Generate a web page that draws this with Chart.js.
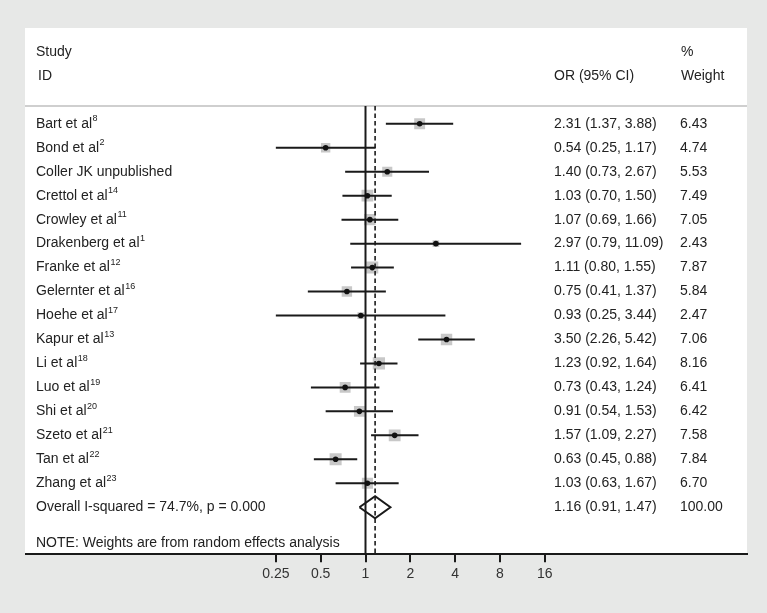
<!DOCTYPE html>
<html>
<head>
<meta charset="utf-8">
<script src="https://cdn.jsdelivr.net/npm/chart.js@4/dist/chart.umd.min.js"></script>
<style>
  body { margin: 0; background: #e7e8e7; }
  canvas { display: block; }
</style>
</head>
<body>
<canvas id="forestChart" width="767" height="613"></canvas>
<script>
// Study data
const studies = ['Bart et al', 'Bond et al', 'Coller JK unpublished', 'Crettol et al', 'Crowley et al',
  'Drakenberg et al', 'Franke et al', 'Gelernter et al', 'Hoehe et al', 'Kapur et al', 'Li et al',
  'Luo et al', 'Shi et al', 'Szeto et al', 'Tan et al', 'Zhang et al'];
const refs = ['8', '2', '', '14', '11', '1', '12', '16', '17', '13', '18', '19', '20', '21', '22', '23'];
const oddsRatio = [2.31, 0.54, 1.40, 1.03, 1.07, 2.97, 1.11, 0.75, 0.93, 3.50, 1.23, 0.73, 0.91, 1.57, 0.63, 1.03];
const ciLow = [1.37, 0.25, 0.73, 0.70, 0.69, 0.79, 0.80, 0.41, 0.25, 2.26, 0.92, 0.43, 0.54, 1.09, 0.45, 0.63];
const ciHigh = [3.88, 1.17, 2.67, 1.50, 1.66, 11.09, 1.55, 1.37, 3.44, 5.42, 1.64, 1.24, 1.53, 2.27, 0.88, 1.67];
const weights = [6.43, 4.74, 5.53, 7.49, 7.05, 2.43, 7.87, 5.84, 2.47, 7.06, 8.16, 6.41, 6.42, 7.58, 7.84, 6.70];
const overall = { or: 1.16, low: 0.91, high: 1.47, weight: 100.00 };
const overallLabel = 'Overall I-squared = 74.7%, p = 0.000';
const noteText = 'NOTE: Weights are from random effects analysis';
const xTicks = [0.25, 0.5, 1, 2, 4, 8, 16];

const FONT = "'Liberation Sans', Arial, sans-serif";
const TEXT = '#222222';
const overallRow = studies.length;
const yTop = -0.743, yBottom = 17.96;

document.addEventListener('DOMContentLoaded', function() {
    const ctx = document.getElementById('forestChart').getContext('2d');

    // points for CI whiskers, separated by null gaps
    const ciData = [];
    studies.forEach((s, i) => {
        ciData.push({ x: ciLow[i], y: i }, { x: ciHigh[i], y: i }, { x: null, y: null });
    });
    const dh = 0.46;
    const diamond = [
        { x: overall.low, y: overallRow }, { x: overall.or, y: overallRow - dh },
        { x: overall.high, y: overallRow }, { x: overall.or, y: overallRow + dh },
        { x: overall.low, y: overallRow }
    ];

    // background panel, header rule and table text
    const tablePlugin = {
        id: 'table',
        beforeDraw(chart) {
            const c = chart.ctx;
            c.save();
            c.fillStyle = '#e7e8e7';
            c.fillRect(0, 0, chart.width, chart.height);
            c.fillStyle = '#ffffff';
            c.fillRect(25, 28, 722, 527);
            c.strokeStyle = '#cfcfcf';
            c.lineWidth = 2;
            c.beginPath();
            c.moveTo(25, 106);
            c.lineTo(747, 106);
            c.stroke();
            c.restore();
        },
        afterDraw(chart) {
            const c = chart.ctx;
            const y = chart.scales.y;
            c.save();
            c.fillStyle = TEXT;
            c.textBaseline = 'middle';
            c.font = '14px ' + FONT;
            c.fillText('Study', 36, 52);
            c.fillText('ID', 38, 76);
            c.fillText('OR (95% CI)', 554, 76);
            c.fillText('%', 681, 52);
            c.fillText('Weight', 681, 76);

            studies.forEach((s, i) => {
                const py = y.getPixelForValue(i);
                c.font = '14px ' + FONT;
                c.fillText(s, 36, py);
                const w = c.measureText(s).width;
                if (refs[i]) {
                    c.font = '9px ' + FONT;
                    c.fillText(refs[i], 36 + w + 0.5, py - 5);
                }
                c.font = '14px ' + FONT;
                c.fillText(oddsRatio[i].toFixed(2) + ' (' + ciLow[i].toFixed(2) + ', ' + ciHigh[i].toFixed(2) + ')', 554, py);
                c.fillText(weights[i].toFixed(2), 680, py);
            });
            const oy = y.getPixelForValue(overallRow);
            c.fillText(overallLabel, 36, oy);
            c.fillText(overall.or.toFixed(2) + ' (' + overall.low.toFixed(2) + ', ' + overall.high.toFixed(2) + ')', 554, oy);
            c.fillText(overall.weight.toFixed(2), 680, oy);
            c.fillText(noteText, 36, y.getPixelForValue(overallRow + 1.5));
            c.restore();
        }
    };

    const xMin = Math.pow(2, (26 - 365.5) / 44.83);
    const xMax = Math.pow(2, (747 - 365.5) / 44.83);

    new Chart(ctx, {
        type: 'scatter',
        data: {
            datasets: [
                {
                    label: 'Point estimate',
                    data: oddsRatio.map((v, i) => ({ x: v, y: i })),
                    pointStyle: 'circle',
                    pointRadius: 2.8,
                    backgroundColor: '#111111',
                    borderWidth: 0
                },
                {
                    label: '95% CI',
                    data: ciData,
                    showLine: true,
                    spanGaps: false,
                    borderColor: '#1a1a1a',
                    borderWidth: 2,
                    pointRadius: 0
                },
                {
                    label: 'No effect',
                    data: [{ x: 1, y: yTop }, { x: 1, y: yBottom }],
                    showLine: true,
                    borderColor: '#1a1a1a',
                    borderWidth: 2,
                    pointRadius: 0
                },
                {
                    label: 'Overall effect',
                    data: [{ x: overall.or, y: yTop }, { x: overall.or, y: yBottom }],
                    showLine: true,
                    borderColor: '#1a1a1a',
                    borderWidth: 1.6,
                    borderDash: [4.5, 3],
                    pointRadius: 0
                },
                {
                    label: 'Overall',
                    data: diamond,
                    showLine: true,
                    borderColor: '#1a1a1a',
                    borderWidth: 2,
                    borderJoinStyle: 'miter',
                    pointRadius: 0,
                    fill: false
                },
                {
                    label: 'Weight',
                    data: oddsRatio.map((v, i) => ({ x: v, y: i })),
                    pointStyle: 'rect',
                    pointRadius: weights.map(w => 4.3 * Math.sqrt(w) / Math.SQRT2),
                    backgroundColor: '#c8c8c8',
                    borderWidth: 0
                }
            ]
        },
        options: {
            responsive: false,
            animation: false,
            layout: {
                padding: { left: 26, right: 20, top: 106, bottom: 26 }
            },
            scales: {
                x: {
                    type: 'logarithmic',
                    min: xMin,
                    max: xMax,
                    afterBuildTicks: function(scale) {
                        scale.ticks = xTicks.map(v => ({ value: v }));
                    },
                    border: { display: true, color: '#1a1a1a', width: 2 },
                    grid: {
                        drawOnChartArea: false,
                        drawTicks: true,
                        tickLength: 8,
                        color: '#1a1a1a',
                        lineWidth: 2
                    },
                    ticks: {
                        padding: 4,
                        color: '#333333',
                        font: { family: FONT, size: 14 },
                        autoSkip: false,
                        maxRotation: 0,
                        callback: function(v) { return String(v); }
                    }
                },
                y: {
                    type: 'linear',
                    display: false,
                    reverse: true,
                    min: yTop,
                    max: yBottom
                }
            },
            plugins: {
                legend: { display: false },
                tooltip: { enabled: false }
            }
        },
        plugins: [tablePlugin]
    });
});
</script>
</body>
</html>
